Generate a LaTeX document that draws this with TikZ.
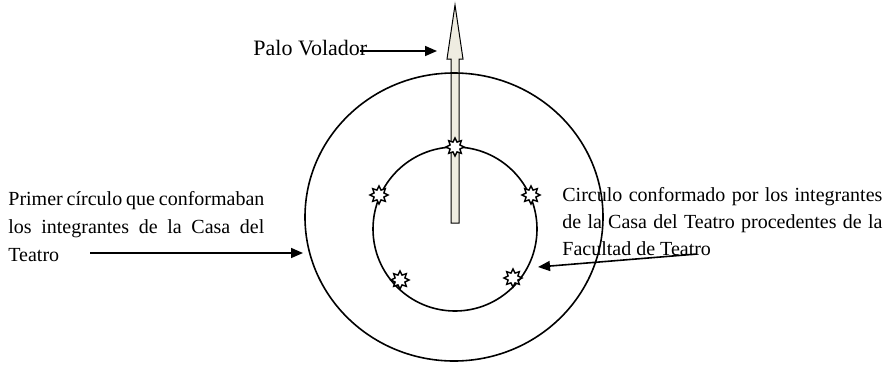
\documentclass[tikz,border=0pt]{standalone}
\usepackage{fontspec}
\setmainfont{Liberation Serif}
\usepackage{tikz}
\usetikzlibrary{positioning,arrows.meta,shapes.geometric}
\definecolor{palo}{HTML}{EEECE1}

\begin{document}
\begin{tikzpicture}[x=0.5pt, y=-0.5pt,
  rueda/.style={line width=0.8pt},
  flecha/.style={line width=0.8pt, -{Triangle[length=6pt,width=5pt]}},
  nota/.style={inner sep=0pt, align=justify, font=\fontsize{10}{14}\selectfont},
  estrella/.style={star, star points=8, star point ratio=1.7, minimum size=9pt,
    inner sep=0pt, draw, fill=white, line width=0.7pt}]
\useasboundingbox (0,0) rectangle (883,365);
% palo volador
\draw[fill=palo, line width=0.5pt] (451,223) -- (451,59) -- (447,59) -- (455,5)
  -- (463,59) -- (459,59) -- (459,223) -- cycle;
% circles
\draw[rueda] (454,217) ellipse [x radius=149, y radius=144];
\draw[rueda] (455,229) circle [radius=82];
% dancers on the inner circle
\foreach \p [count=\i] in {(455,147),(379,195),(531,195),(400,280),(513,278)}
  \node[estrella] (d\i) at \p {};
% labels
\node[inner sep=0pt, anchor=base west, font=\fontsize{11}{13}\selectfont] (palotxt) at (253,55) {Palo Volador};
\node[nota, anchor=north west, text width=128pt] (primer) at (8,191)
  {Primer círculo que conformaban los integrantes de la Casa del Teatro};
\node[nota, anchor=north west, text width=160pt, font=\fontsize{10}{13.5}\selectfont] (segundo) at (562,187)
  {Circulo conformado por los integrantes de la Casa del Teatro procedentes de la Facultad de Teatro};
% arrows
\coordinate (palotip) at (437,51);
\coordinate (ta) at (90,253);
\coordinate (tb) at (303,253);
\coordinate (fa) at (697,254);
\coordinate (fb) at (538,267);
\draw[flecha] ([xshift=-4pt]palotxt.east |- palotip) -- (palotip);
\draw[flecha] (ta) -- (tb);
\draw[flecha] (fa) -- (fb);
\end{tikzpicture}
\end{document}
